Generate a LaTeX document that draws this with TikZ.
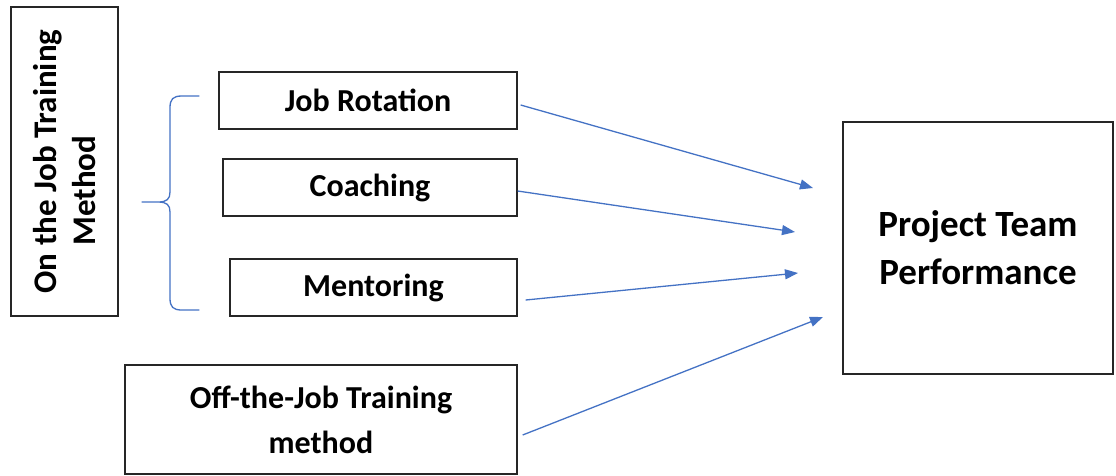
\documentclass[tikz,border=0pt]{standalone}
\usepackage{fontspec}
\setmainfont{Carlito}
\usetikzlibrary{arrows.meta}
\definecolor{linkblue}{HTML}{4472C4}
\definecolor{boxline}{HTML}{262626}
\begin{document}
\begin{tikzpicture}[x=1pt,y=-1pt,
  box/.style={draw=boxline, line width=1.3pt, inner sep=0pt, align=center,
    font=\bfseries\fontsize{32}{45}\selectfont},
  link/.style={draw=linkblue, line width=1.3pt, -{Triangle[length=13pt,width=10pt]}},
  bracestyle/.style={draw=linkblue, line width=1.3pt, line cap=round, line join=round}]
  \useasboundingbox (0,0) rectangle (1116,475);

  % grouping box, text runs upwards
  \node[box, rotate=90, minimum width=309, minimum height=107,
        font=\bfseries\fontsize{33}{39}\selectfont] (onjob) at (64.5,161.5)
        {On the Job Training\\Method\hspace*{58pt}};

  % on-the-job methods
  \node[box, minimum width=298, minimum height=57] (jr) at (368,100.5) {Job Rotation};
  \node[box, minimum width=294, minimum height=57] (co) at (370,187.5) {Coaching};
  \node[box, minimum width=287, minimum height=57] (me) at (373.5,287.5) {Mentoring};

  % off-the-job method
  \node[box, minimum width=392, minimum height=109] (off) at (321,419.5)
        {Off-the-Job Training\\method};

  % outcome
  \node[box, minimum width=270, minimum height=252,
        font=\bfseries\fontsize{37}{48}\selectfont] (ptp) at (978,248)
        {Project Team\\Performance};

  % curly brace grouping the three methods
  \path[bracestyle]
    (199,96) -- (182,96) .. controls (173,96) and (170,99) .. (170,108)
    -- (170,192) .. controls (170,199) and (167,202) .. (158,202) -- (142,202)
    (158,202) .. controls (167,202) and (170,205) .. (170,212)
    -- (170,298) .. controls (170,307) and (173,310) .. (182,310) -- (199,310);

  % arrow tips in front of the outcome box
  \coordinate (t1) at (813,188);
  \coordinate (t2) at (795,232);
  \coordinate (t3) at (798,273);
  \coordinate (t4) at (823,317);

  \draw[link] ([shift={(3,4.5)}]jr.east) -- (t1);
  \draw[link] ([shift={(0,3.5)}]co.east) -- (t2);
  \draw[link] ([shift={(8,12.5)}]me.east) -- (t3);
  \draw[link] ([shift={(5,15.5)}]off.east) -- (t4);
\end{tikzpicture}
\end{document}
